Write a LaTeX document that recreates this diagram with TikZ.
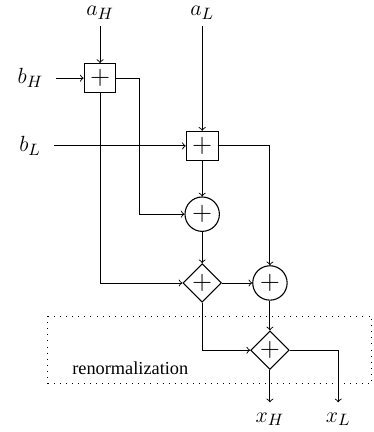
\documentclass[tikz,border=0pt]{standalone}
\usepackage{fontspec}
\setmainfont{Liberation Serif}
\usetikzlibrary{shapes,arrows,positioning,calc}

\tikzset{
    addbox/.style={draw, line width=0.6pt, minimum width=0.61cm, minimum height=0.56cm, inner sep=0pt, font=\fontsize{14}{16}\selectfont},
    addcirc/.style={draw, line width=0.6pt, circle, minimum size=0.66cm, inner sep=0pt, font=\fontsize{14}{16}\selectfont},
    adddiam/.style={draw, line width=0.6pt, diamond, minimum width=0.74cm, minimum height=0.74cm, inner sep=0pt, font=\fontsize{14}{16}\selectfont},
    lbl/.style={inner sep=5.5pt, font=\fontsize{13}{15}\selectfont}
}

\begin{document}
\begin{tikzpicture}[line width=0.5pt]
    \useasboundingbox (0,0) rectangle (7.16,-8.29);

    % Inputs
    \node [lbl, anchor=south, inner ysep=1pt] (aH) at (1.92,-0.42) {$a_H$};
    \node [lbl, anchor=south, inner ysep=1pt] (aL) at (3.88,-0.42) {$a_L$};
    \node [lbl, anchor=east, inner xsep=7pt] (bH) at (1.08,-1.50) {$b_H$};
    \node [lbl, anchor=east, inner xsep=7pt] (bL) at (1.04,-2.80) {$b_L$};

    % Adders
    \node [addbox] (add1) at (1.92,-1.50) {$+$};
    \node [addbox] (add2) at (3.88,-2.80) {$+$};
    \node [addcirc] (sum1) at (3.88,-4.11) {$+$};
    \node [adddiam] (dsum1) at (3.88,-5.43) {$+$};
    \node [addcirc] (sum2) at (5.18,-5.43) {$+$};
    \node [adddiam] (dsum2) at (5.18,-6.72) {$+$};

    % Outputs
    \node [lbl, anchor=north] (xH) at (5.18,-7.72) {$x_H$};
    \node [lbl, anchor=north] (xL) at (6.49,-7.72) {$x_L$};

    % Wires
    \draw [->, shorten <=2.5pt] (aH) -- (add1);
    \draw [->, shorten <=2.5pt] (aL) -- (add2);
    \draw [->] (bH) -- (add1);
    \draw [->] (bL) -- (add2);
    \draw [->] (add1.east) -- ++(0.44,0) |- (sum1);
    \draw [->] (add1) |- (dsum1);
    \draw [->] (add2) -- (sum1);
    \draw [->] (add2) -| (sum2);
    \draw [->] (sum1) -- (dsum1);
    \draw [->] (dsum1) -- (sum2);
    \draw [->] (dsum1) |- (dsum2);
    \draw [->] (sum2) -- (dsum2);
    \draw [->] (dsum2) -- (xH);
    \draw [->] (dsum2) -| (xL);

    % Renormalization
    \draw [dash pattern=on 0.4pt off 2.9pt] (0.92,-6.07) rectangle (7.13,-7.35);
    \node (renorm) at (2.50,-7.07) {renormalization};
\end{tikzpicture}
\end{document}
